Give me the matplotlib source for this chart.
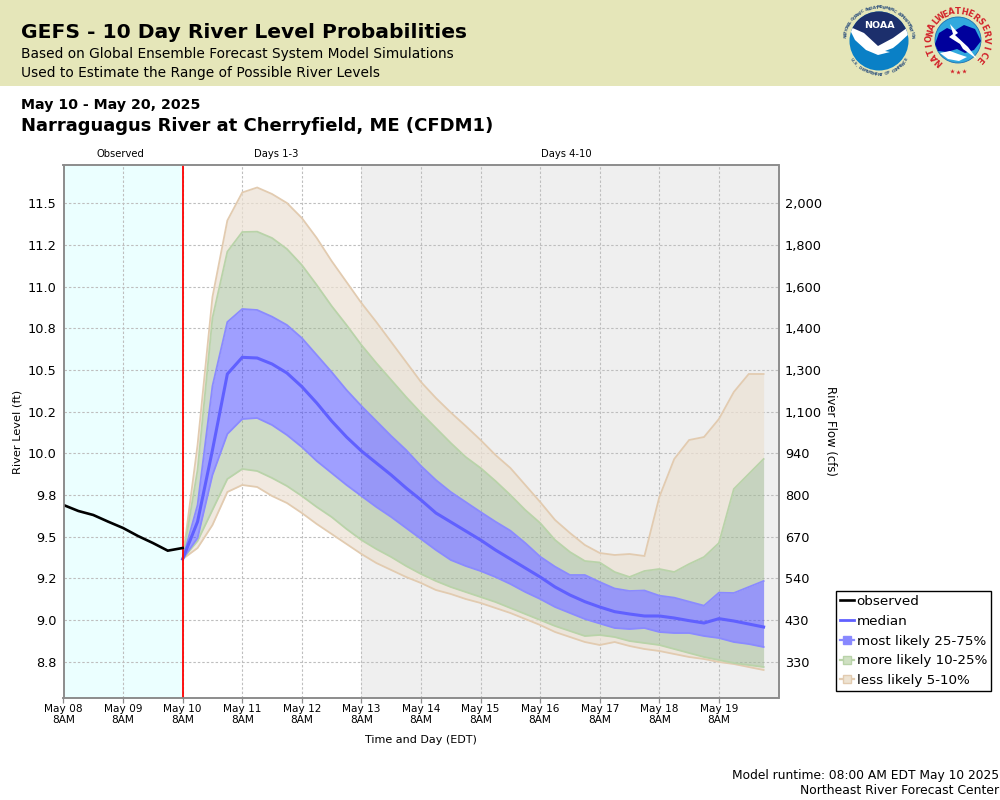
import numpy as np
import pandas as pd
import matplotlib
matplotlib.use("Agg")
import matplotlib.pyplot as plt
from matplotlib.lines import Line2D
from matplotlib.patches import Circle, Polygon, Rectangle

# ---------- data (river level, ft) ----------
obs_times = pd.date_range("2025-05-08 08:00", periods=9, freq="6h")
observed = [9.69, 9.654, 9.63, 9.59, 9.552, 9.504, 9.462, 9.416, 9.432]

fc_times = pd.date_range("2025-05-10 08:00", periods=40, freq="6h")
p95 = [9.366, 10.05, 10.938, 11.397, 11.565, 11.595, 11.556, 11.502, 11.412, 11.292,
       11.154, 11.028, 10.902, 10.788, 10.668, 10.548, 10.428, 10.332, 10.245, 10.164,
       10.08, 9.99, 9.912, 9.81, 9.708, 9.6, 9.522, 9.45, 9.402, 9.39,
       9.396, 9.384, 9.738, 9.966, 10.08, 10.098, 10.206, 10.368, 10.476, 10.476]
p90 = [9.366, 9.9, 10.812, 11.21, 11.328, 11.33, 11.292, 11.226, 11.13, 11.01,
       10.884, 10.77, 10.65, 10.542, 10.44, 10.338, 10.242, 10.152, 10.062, 9.978,
       9.912, 9.834, 9.75, 9.66, 9.582, 9.48, 9.408, 9.354, 9.345, 9.288,
       9.258, 9.294, 9.306, 9.288, 9.336, 9.378, 9.462, 9.786, 9.876, 9.966]
p75 = [9.366, 9.69, 10.404, 10.788, 10.866, 10.86, 10.82, 10.77, 10.692, 10.59,
       10.488, 10.38, 10.284, 10.194, 10.104, 10.02, 9.924, 9.84, 9.768, 9.708,
       9.648, 9.59, 9.536, 9.462, 9.38, 9.32, 9.27, 9.27, 9.228, 9.189,
       9.174, 9.177, 9.146, 9.134, 9.11, 9.086, 9.164, 9.162, 9.198, 9.234]
median = [9.366, 9.59, 10.02, 10.476, 10.576, 10.572, 10.536, 10.482, 10.4, 10.302,
          10.194, 10.098, 10.014, 9.942, 9.87, 9.792, 9.72, 9.642, 9.588, 9.534,
          9.48, 9.42, 9.366, 9.312, 9.258, 9.198, 9.15, 9.11, 9.078, 9.05,
          9.036, 9.024, 9.024, 9.012, 8.996, 8.982, 9.008, 8.994, 8.976, 8.958]
p25 = [9.366, 9.492, 9.87, 10.116, 10.206, 10.212, 10.17, 10.11, 10.038, 9.954,
       9.882, 9.81, 9.744, 9.678, 9.618, 9.552, 9.486, 9.42, 9.36, 9.324,
       9.294, 9.258, 9.216, 9.168, 9.126, 9.078, 9.042, 9.006, 8.979, 8.952,
       8.946, 8.952, 8.928, 8.922, 8.922, 8.904, 8.892, 8.868, 8.856, 8.838]
p10 = [9.366, 9.474, 9.66, 9.846, 9.906, 9.894, 9.852, 9.804, 9.744, 9.678,
       9.618, 9.546, 9.48, 9.426, 9.378, 9.324, 9.276, 9.234, 9.198, 9.168,
       9.138, 9.108, 9.072, 9.036, 9.0, 8.964, 8.934, 8.904, 8.91, 8.898,
       8.874, 8.862, 8.85, 8.826, 8.802, 8.778, 8.76, 8.742, 8.73, 8.718]
p5 = [9.366, 9.432, 9.57, 9.768, 9.81, 9.798, 9.744, 9.702, 9.642, 9.576,
      9.516, 9.456, 9.396, 9.342, 9.3, 9.258, 9.222, 9.18, 9.156, 9.126,
      9.102, 9.072, 9.042, 9.006, 8.97, 8.928, 8.898, 8.868, 8.85, 8.868,
      8.844, 8.826, 8.814, 8.796, 8.778, 8.766, 8.748, 8.736, 8.718, 8.7]

level_ticks = [8.75, 9.0, 9.25, 9.5, 9.75, 10.0, 10.25, 10.5, 10.75, 11.0, 11.25, 11.5]
level_labels = ["8.8", "9.0", "9.2", "9.5", "9.8", "10.0", "10.2", "10.5", "10.8", "11.0", "11.2", "11.5"]
flow_labels = ["330", "430", "540", "670", "800", "940", "1,100", "1,300", "1,400", "1,600", "1,800", "2,000"]
day_ticks = pd.date_range("2025-05-08 08:00", periods=12, freq="D")
day_labels = [d.strftime("%b %d") + "\n8AM" for d in day_ticks]

# ---------- style ----------
BAND = "#E5E6B9"
OBS_BG = "#EBFFFF"
GRAY_BG = "#EFEFEF"
SPINE = "#8C8C8C"
GRID = "#BEBEBE"
TAN = "#ECE1D3"
GREEN = "#9FB991"
BLUE = "#4141FF"
TAN_L = "#E2CBB0"
GREEN_L = "#B9D3A9"
BLUE_L = "#8A8AFF"
MED = "#6060FF"

plt.rcParams["font.family"] = "DejaVu Sans"
fig = plt.figure(figsize=(10, 8), dpi=100, facecolor="white")

# page layer in pixel coordinates
bg = fig.add_axes([0, 0, 1, 1], zorder=0)
bg.set_xlim(0, 1000)
bg.set_ylim(800, 0)
bg.axis("off")
bg.add_patch(Rectangle((0, 0), 1000, 85.5, fc=BAND, ec="none"))
bg.text(21, 33, "GEFS - 10 Day River Level Probabilities", fontsize=14.6, fontweight="bold", va="center")
bg.text(21, 54, "Based on Global Ensemble Forecast System Model Simulations", fontsize=9.95, va="center")
bg.text(21, 73, "Used to Estimate the Range of Possible River Levels", fontsize=9.95, va="center")
bg.text(21, 105, "May 10 - May 20, 2025", fontsize=10.2, fontweight="bold", va="center")
bg.text(21, 126, "Narraguagus River at Cherryfield, ME (CFDM1)", fontsize=12.95, fontweight="bold", va="center")
bg.text(120, 154, "Observed", fontsize=7.2, ha="center", va="center")
bg.text(276, 154, "Days 1-3", fontsize=7.2, ha="center", va="center")
bg.text(566, 154, "Days 4-10", fontsize=7.2, ha="center", va="center")
bg.text(18, 432, "River Level (ft)", fontsize=8.2, rotation=90, ha="center", va="center")
bg.text(831, 431, "River Flow (cfs)", fontsize=8.4, rotation=270, ha="center", va="center")
bg.text(421, 740, "Time and Day (EDT)", fontsize=8.0, ha="center", va="center")
bg.text(999, 775, "Model runtime: 08:00 AM EDT May 10 2025", fontsize=8.8, ha="right", va="center")
bg.text(999, 791, "Northeast River Forecast Center", fontsize=8.9, ha="right", va="center")


def arc_text(s, cx, cy, r, start, end, offset=-90, **kw):
    angles = np.linspace(start, end, len(s))
    for ch, a in zip(s, angles):
        rad = np.deg2rad(a)
        bg.text(cx + r * np.cos(rad), cy - r * np.sin(rad), ch, rotation=a + offset,
                ha="center", va="center", rotation_mode="anchor", **kw)


# NOAA emblem
nx, ny, nr = 879, 41, 29.5
disc = Circle((nx, ny), nr, fc="#0A80C6", ec="none")
bg.add_patch(disc)
navy = Polygon([(845, 8), (915, 8), (915, 28), (878, 48), (845, 26)], fc="#1C2F6C", ec="none")
bg.add_patch(navy)
navy.set_clip_path(disc)
swoop = Polygon([(848, 26), (864, 33), (878, 46), (893, 38), (911, 25), (911, 32), (898, 44),
                 (893, 48), (885, 51), (890, 52), (878, 55), (866, 50), (855, 40)],
                fc="white", ec="none")
bg.add_patch(swoop)
swoop.set_clip_path(disc)
bg.text(nx, 26, "NOAA", color="white", fontsize=6.8, fontweight="bold", ha="center", va="center")
arc_text("NATIONAL OCEANIC AND ATMOSPHERIC ADMINISTRATION", nx, ny, 33.5, 172, 8,
         fontsize=3.0, color="#33557F", fontweight="bold")
arc_text("U.S. DEPARTMENT OF COMMERCE", nx, ny, 33.5, 214, 326, offset=90,
         fontsize=3.0, color="#33557F", fontweight="bold")

# NWS emblem
wx, wy = 958, 40
bg.add_patch(Circle((wx, wy), 23, fc="#31A9DE", ec="#1C6FB0", lw=0.6))
bg.add_patch(Polygon([(935, 44), (939, 33), (947, 28), (954, 31), (964, 25), (975, 29), (981, 41),
                      (974, 50), (965, 53), (957, 49), (947, 52), (938, 51)],
                     fc="#00009C", ec="none"))
bg.add_patch(Polygon([(940, 53), (950, 51), (958, 54), (967, 57), (959, 61), (948, 59)],
                     fc="white", ec="none"))
bg.add_patch(Polygon([(950, 24), (958, 33), (955, 35), (968, 47), (977, 59), (963, 49), (960, 44),
                      (949, 37), (953, 34)], fc="white", ec="none"))
arc_text("NATIONAL", wx, wy, 28.5, 228, 140, fontsize=6.0, color="#D2232A", fontweight="bold")
arc_text("WEATHER", wx, wy, 28.5, 128, 52, fontsize=6.0, color="#D2232A", fontweight="bold")
arc_text("SERVICE", wx, wy, 28.5, 40, -42, fontsize=6.0, color="#D2232A", fontweight="bold")
bg.plot([952, 958, 964], [71, 72, 71], ls="none", marker="*", ms=3.5, color="#D2232A", mec="none")

# ---------- main axes ----------
L, R, T, B = 63.5, 778.5, 164.5, 698
ax = fig.add_axes([L / 1000, 1 - B / 800, (R - L) / 1000, (B - T) / 800], zorder=2)
x0 = pd.Timestamp("2025-05-08 08:00")
x1 = pd.Timestamp("2025-05-20 08:00")
xnow = pd.Timestamp("2025-05-10 08:00")
xday4 = pd.Timestamp("2025-05-13 08:00")
ax.set_xlim(x0, x1)
ax.set_ylim(8.532, 11.733)
ax.axvspan(x0, xnow, color=OBS_BG, lw=0, zorder=0)
ax.axvspan(xday4, x1, color=GRAY_BG, lw=0, zorder=0)
ax.set_axisbelow(True)
ax.grid(True, color=GRID, lw=0.8, ls=(0, (2.2, 1.8)))

t = fc_times
ax.fill_between(t, p90, p95, color=TAN, alpha=0.7, lw=0)
ax.fill_between(t, p5, p10, color=TAN, alpha=0.7, lw=0)
ax.fill_between(t, p75, p90, color=GREEN, alpha=0.5, lw=0)
ax.fill_between(t, p10, p25, color=GREEN, alpha=0.5, lw=0)
ax.fill_between(t, p25, p75, color=BLUE, alpha=0.5, lw=0)
for series, col in ((p95, TAN_L), (p5, TAN_L), (p90, GREEN_L), (p10, GREEN_L), (p75, BLUE_L), (p25, BLUE_L)):
    ax.plot(t, series, color=col, lw=1.3, solid_joinstyle="miter")
ax.plot(t, median, color=MED, lw=2.2, solid_joinstyle="miter")
ax.axvline(xnow, color="#FF0000", lw=1.3, zorder=3)
ax.plot(obs_times, observed, color="black", lw=1.9, zorder=4, solid_joinstyle="miter")

ax.set_xticks(day_ticks)
ax.set_xticklabels(day_labels, fontsize=7.6, linespacing=1.15)
ax.set_yticks(level_ticks)
ax.set_yticklabels(level_labels, fontsize=9.3)
ax.tick_params(axis="x", length=3.5, width=0.9, color=SPINE, pad=0.5)
ax.tick_params(axis="y", length=0, pad=5)

ax2 = ax.twinx()
ax2.set_ylim(ax.get_ylim())
ax2.set_yticks(level_ticks)
ax2.set_yticklabels(flow_labels, fontsize=9.3)
ax2.tick_params(axis="y", length=0, pad=4.5)
for a in (ax, ax2):
    for sp in a.spines.values():
        sp.set_color(SPINE)
        sp.set_linewidth(1.2)

handles = [
    Line2D([], [], color="black", lw=1.9),
    Line2D([], [], color=MED, lw=2.0),
    Line2D([], [], color=BLUE_L, lw=1.6, marker="s", ms=6.0, mfc="#8888FF", mec=BLUE_L),
    Line2D([], [], color=GREEN_L, lw=1.6, marker="s", ms=6.0, mfc="#CFE0C2", mec=GREEN_L),
    Line2D([], [], color=TAN_L, lw=1.6, marker="s", ms=6.0, mfc="#EEE3D2", mec=TAN_L),
]
names = ["observed", "median", "most likely 25-75%", "more likely 10-25%", "less likely 5-10%"]
leg = fig.legend(handles, names, loc="upper left", bbox_to_anchor=(835.5 / 1000, 1 - 591 / 800),
                 fontsize=9.7, frameon=True, fancybox=False, framealpha=1, edgecolor="black",
                 borderpad=0.3, labelspacing=0.5, handlelength=1.05, handletextpad=0.22, borderaxespad=0)
leg.get_frame().set_linewidth(1.0)

fig.savefig("out.png", dpi=100)
